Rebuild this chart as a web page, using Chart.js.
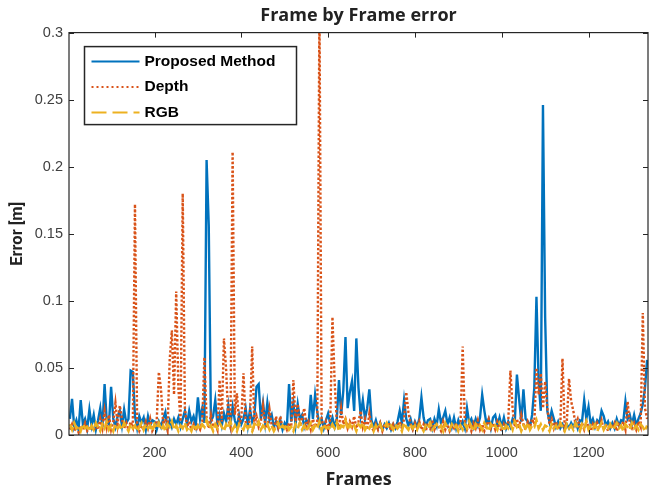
<!DOCTYPE html>
<html>
<head>
<meta charset="utf-8">
<title>Frame by Frame error</title>
<script src="https://cdn.jsdelivr.net/npm/chart.js@4.4.1/dist/chart.umd.min.js"></script>
<style>
body{margin:0;background:#fff}
canvas{display:block}
</style>
</head>
<body>
<canvas id="chart" width="649" height="491"></canvas>
<script>

// one sample every 5 frames, values in metres
let frameStep = 5

let proposed = [
0.012,0.027,0.006,0.011,0.004,0.026,0.008,0.012,0.005,0.019,
0.007,0.015,0.004,0.011,0.020,0.006,0.038,0.010,0.008,0.036,
0.012,0.006,0.014,0.018,0.007,0.019,0.009,0.012,0.048,0.047,
0.014,0.005,0.014,0.009,0.013,0.004,0.014,0.007,0.011,0.010,
0.004,0.010,0.006,0.012,0.017,0.005,0.011,0.006,0.012,0.008,
0.013,0.006,0.012,0.018,0.008,0.018,0.010,0.014,0.007,0.028,
0.012,0.020,0.009,0.205,0.156,0.010,0.014,0.026,0.008,0.015,
0.007,0.016,0.010,0.022,0.008,0.021,0.011,0.006,0.015,0.008,
0.012,0.020,0.007,0.019,0.010,0.014,0.036,0.038,0.012,0.024,
0.009,0.024,0.011,0.015,0.006,0.010,0.005,0.011,0.004,0.009,
0.006,0.038,0.010,0.024,0.008,0.023,0.012,0.015,0.006,0.011,
0.008,0.030,0.012,0.030,0.017,0.007,0.012,0.005,0.011,0.016,
0.008,0.013,0.006,0.012,0.041,0.015,0.033,0.073,0.020,0.032,
0.040,0.018,0.072,0.035,0.015,0.026,0.012,0.020,0.034,0.011,
0.006,0.011,0.005,0.009,0.004,0.008,0.005,0.009,0.004,0.008,
0.005,0.010,0.018,0.009,0.026,0.012,0.007,0.012,0.005,0.010,
0.006,0.012,0.028,0.013,0.006,0.011,0.012,0.005,0.012,0.007,
0.019,0.009,0.013,0.018,0.008,0.013,0.006,0.013,0.005,0.011,
0.006,0.010,0.005,0.020,0.009,0.012,0.006,0.012,0.007,0.013,
0.030,0.018,0.008,0.012,0.005,0.013,0.015,0.007,0.013,0.006,
0.013,0.005,0.010,0.006,0.012,0.009,0.045,0.027,0.010,0.034,
0.012,0.010,0.006,0.015,0.035,0.103,0.040,0.018,0.246,0.088,
0.018,0.010,0.018,0.012,0.006,0.010,0.005,0.008,0.004,0.008,
0.005,0.009,0.006,0.010,0.005,0.011,0.010,0.026,0.012,0.021,
0.008,0.012,0.006,0.011,0.009,0.018,0.014,0.007,0.010,0.005,
0.009,0.005,0.012,0.007,0.011,0.010,0.025,0.012,0.015,0.008,
0.015,0.007,0.012,0.016,0.023,0.035,0.056
]

let depth = [
0.004,0.008,0.003,0.006,0.002,0.007,0.004,0.009,0.003,0.005,
0.006,0.003,0.008,0.004,0.012,0.005,0.018,0.006,0.015,0.004,
0.010,0.024,0.008,0.022,0.012,0.005,0.009,0.004,0.010,0.006,
0.172,0.008,0.003,0.007,0.004,0.010,0.005,0.012,0.003,0.006,
0.010,0.047,0.034,0.008,0.012,0.004,0.056,0.078,0.030,0.107,
0.035,0.010,0.180,0.020,0.006,0.010,0.004,0.008,0.003,0.007,
0.004,0.010,0.058,0.012,0.005,0.015,0.006,0.009,0.004,0.041,
0.010,0.072,0.049,0.012,0.006,0.211,0.015,0.031,0.008,0.012,
0.046,0.010,0.005,0.012,0.066,0.008,0.014,0.006,0.010,0.022,
0.008,0.005,0.019,0.007,0.004,0.014,0.006,0.014,0.005,0.008,
0.004,0.009,0.006,0.041,0.010,0.023,0.007,0.012,0.020,0.006,
0.010,0.004,0.012,0.006,0.009,0.320,0.012,0.005,0.010,0.004,
0.012,0.088,0.040,0.010,0.006,0.020,0.008,0.012,0.005,0.010,
0.006,0.014,0.005,0.010,0.018,0.006,0.012,0.004,0.016,0.006,
0.003,0.008,0.004,0.009,0.003,0.008,0.005,0.009,0.003,0.008,
0.004,0.007,0.010,0.005,0.012,0.032,0.017,0.008,0.004,0.009,
0.005,0.010,0.004,0.008,0.003,0.009,0.005,0.011,0.004,0.008,
0.006,0.003,0.010,0.004,0.008,0.003,0.007,0.005,0.009,0.004,
0.008,0.066,0.010,0.004,0.008,0.003,0.009,0.005,0.011,0.004,
0.008,0.003,0.007,0.012,0.005,0.009,0.004,0.010,0.006,0.003,
0.008,0.004,0.010,0.048,0.020,0.006,0.012,0.005,0.015,0.008,
0.004,0.010,0.006,0.012,0.008,0.050,0.030,0.046,0.020,0.040,
0.020,0.008,0.012,0.005,0.010,0.004,0.008,0.057,0.006,0.010,
0.042,0.025,0.018,0.008,0.012,0.005,0.009,0.004,0.010,0.006,
0.003,0.008,0.004,0.009,0.005,0.011,0.004,0.008,0.003,0.007,
0.005,0.009,0.003,0.008,0.006,0.010,0.004,0.025,0.008,0.005,
0.009,0.004,0.010,0.006,0.091,0.020,0.012
]

let rgb = [
0.008,0.004,0.009,0.005,0.007,0.003,0.008,0.005,0.006,0.003,
0.007,0.004,0.009,0.006,0.003,0.008,0.005,0.010,0.004,0.007,
0.003,0.008,0.005,0.007,0.004,0.009,0.006,0.003,0.008,0.005,
0.007,0.003,0.006,0.009,0.004,0.008,0.005,0.007,0.003,0.008,
0.005,0.009,0.004,0.007,0.003,0.008,0.006,0.010,0.004,0.007,
0.003,0.007,0.005,0.009,0.004,0.006,0.003,0.008,0.005,0.007,
0.004,0.008,0.006,0.011,0.005,0.007,0.003,0.008,0.005,0.009,
0.006,0.003,0.008,0.005,0.010,0.004,0.007,0.003,0.008,0.006,
0.004,0.009,0.005,0.007,0.003,0.008,0.006,0.010,0.004,0.007,
0.005,0.008,0.004,0.007,0.003,0.006,0.009,0.004,0.007,0.005,
0.008,0.004,0.006,0.003,0.008,0.005,0.009,0.004,0.007,0.003,
0.006,0.009,0.004,0.007,0.005,0.010,0.003,0.008,0.005,0.006,
0.004,0.008,0.005,0.009,0.003,0.007,0.006,0.011,0.004,0.008,
0.005,0.007,0.003,0.008,0.006,0.009,0.004,0.007,0.005,0.008,
0.003,0.007,0.005,0.008,0.004,0.006,0.009,0.005,0.007,0.004,
0.008,0.005,0.007,0.003,0.009,0.006,0.004,0.008,0.005,0.007,
0.004,0.008,0.006,0.003,0.007,0.005,0.009,0.004,0.006,0.008,
0.005,0.007,0.003,0.009,0.006,0.004,0.008,0.005,0.007,0.003,
0.007,0.004,0.008,0.005,0.010,0.006,0.003,0.008,0.005,0.007,
0.004,0.009,0.006,0.003,0.008,0.005,0.007,0.004,0.009,0.006,
0.003,0.007,0.005,0.008,0.004,0.010,0.006,0.008,0.003,0.007,
0.005,0.009,0.004,0.007,0.006,0.011,0.005,0.008,0.004,0.007,
0.006,0.003,0.008,0.005,0.007,0.004,0.009,0.006,0.003,0.008,
0.005,0.007,0.004,0.009,0.006,0.003,0.008,0.005,0.010,0.004,
0.007,0.005,0.008,0.003,0.006,0.009,0.004,0.007,0.005,0.008,
0.004,0.006,0.009,0.005,0.007,0.003,0.008,0.006,0.004,0.009,
0.005,0.007,0.004,0.008,0.006,0.003,0.007
]

let seriesNames = ["Proposed Method","Depth","RGB"]
let xTicks = [200,400,600,800,1000,1200]
let yTicks = [0,0.05,0.1,0.15,0.2,0.25,0.3]

let frames = proposed.map((v,i)=>(i+1)*frameStep)

let colors = ["#0072BD","#D95319","#EDB120"]
let lineWidths = [2.4,2.4,2.6]
let dashes = [[],[2.4,2],[9,3]]
let legendDashes = [[],[2,3],[15,6]]
let axisColor = "#262626"

let framePlugin = {
id:"framePlugin",
afterDatasetsDraw(chart){

let ctx = chart.ctx
let a = chart.chartArea
let sx = chart.scales.x
let sy = chart.scales.y

ctx.save()
ctx.strokeStyle = axisColor
ctx.lineWidth = 1.2
ctx.setLineDash([])
ctx.strokeRect(a.left,a.top,a.right-a.left,a.bottom-a.top)

ctx.beginPath()
xTicks.forEach(v=>{
let px = Math.round(sx.getPixelForValue(v))+0.5
ctx.moveTo(px,a.bottom); ctx.lineTo(px,a.bottom-5)
ctx.moveTo(px,a.top); ctx.lineTo(px,a.top+5)
})
yTicks.forEach(v=>{
let py = Math.round(sy.getPixelForValue(v))+0.5
ctx.moveTo(a.left,py); ctx.lineTo(a.left+5,py)
ctx.moveTo(a.right,py); ctx.lineTo(a.right-5,py)
})
ctx.lineWidth = 1
ctx.stroke()

// legend box inside the plot, top left
let lx = a.left+15.5
let ly = a.top+14
ctx.fillStyle = "#fff"
ctx.fillRect(lx,ly,212,78)
ctx.lineWidth = 1.5
ctx.strokeStyle = axisColor
ctx.strokeRect(lx,ly,212,78)

ctx.font = "bold 15.5px 'Liberation Sans', Arial, sans-serif"
ctx.textBaseline = "middle"
ctx.textAlign = "left"
seriesNames.forEach((name,i)=>{
let ry = ly+15+i*25.5
ctx.beginPath()
ctx.strokeStyle = colors[i]
ctx.lineWidth = 2
ctx.setLineDash(legendDashes[i])
ctx.moveTo(lx+7,ry); ctx.lineTo(lx+55,ry)
ctx.stroke()
ctx.setLineDash([])
ctx.fillStyle = "#000"
ctx.fillText(name,lx+60,ry)
})

ctx.restore()
}
}

let ds = [proposed,depth,rgb].map((d,i)=>({
label:seriesNames[i],
data:d,
borderColor:colors[i],
borderWidth:lineWidths[i],
borderDash:dashes[i],
pointRadius:0,
tension:0,
fill:false,
clip:0
}))

new Chart(document.getElementById("chart"),{
type:"line",
data:{
labels:frames,
// reversed so RGB is painted last, on top
datasets:[ds[2],ds[1],ds[0]]
},
options:{
responsive:false,
animation:false,
events:[],
layout:{padding:{left:0,right:1,top:0,bottom:0}},
plugins:{
legend:{display:false},
tooltip:{enabled:false},
title:{
display:true,
text:"Frame by Frame error",
fullSize:false,
color:"#222",
font:{family:"'Open Sans', sans-serif",size:18,weight:"bold"},
padding:{top:5,bottom:6}
}
},
scales:{
x:{
type:"linear",
min:3,
max:1337,
grid:{display:false,drawTicks:false},
border:{display:false},
afterBuildTicks(s){ s.ticks = xTicks.map(v=>({value:v})) },
afterFit(s){ s.height = 56 },
ticks:{
autoSkip:false,
maxRotation:0,
padding:9,
color:"#404040",
font:{family:"'Liberation Sans', Arial, sans-serif",size:14.5},
callback:v=>String(v)
},
title:{
display:true,
text:"Frames",
color:"#222",
font:{family:"'Open Sans', sans-serif",size:18,weight:"bold"},
padding:{top:0,bottom:0}
}
},
y:{
min:0,
max:0.3,
grid:{display:false,drawTicks:false},
border:{display:false},
afterBuildTicks(s){ s.ticks = yTicks.map(v=>({value:v})) },
afterFit(s){ s.width = 69 },
ticks:{
padding:6,
color:"#404040",
font:{family:"'Liberation Sans', Arial, sans-serif",size:14.5},
callback:v=>String(Number(v.toFixed(2)))
},
title:{
display:true,
text:"Error [m]",
color:"#222",
font:{family:"Roboto, 'Open Sans', sans-serif",size:16.5,weight:"bold"},
padding:{top:8,bottom:0}
}
}
}
},
plugins:[{id:"bg",beforeDraw(c){c.ctx.save();c.ctx.fillStyle="#fff";c.ctx.fillRect(0,0,c.width,c.height);c.ctx.restore()}},framePlugin]
})

</script>
</body>
</html>
